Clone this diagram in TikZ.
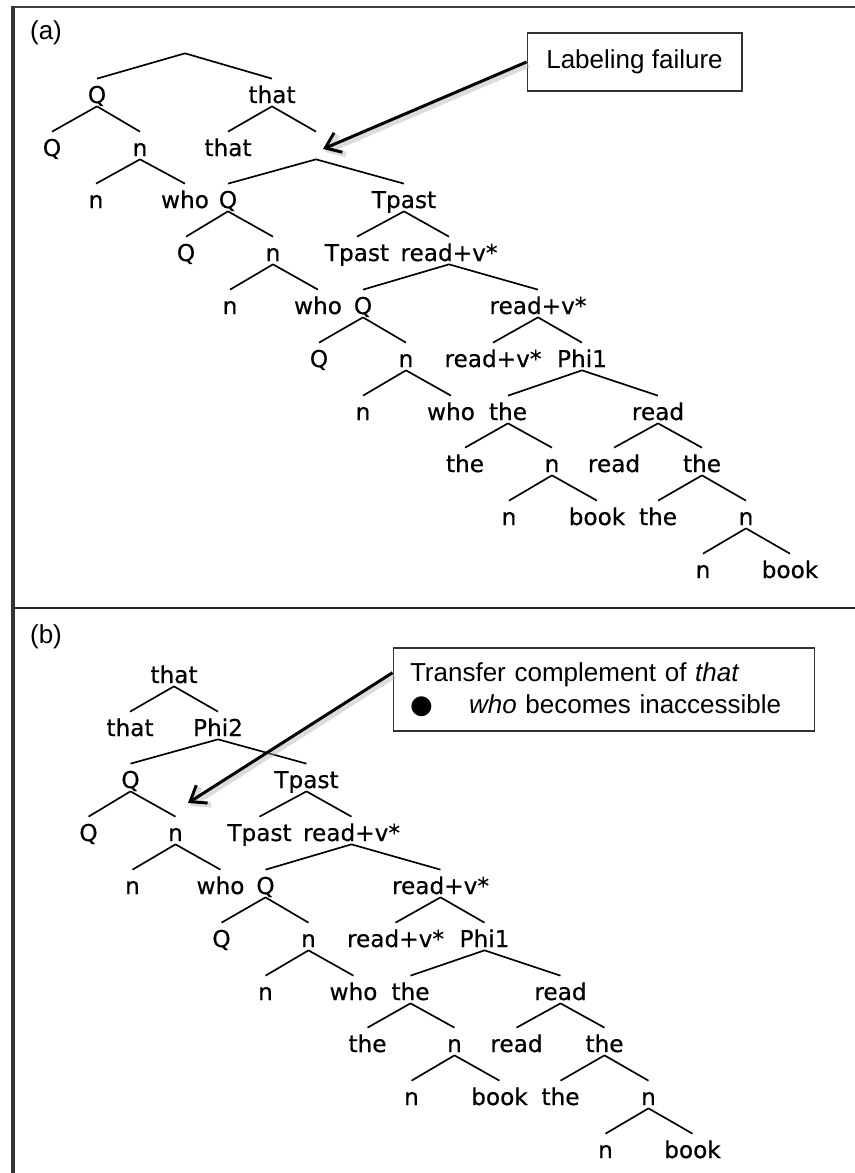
\documentclass[tikz,border=0pt]{standalone}
\usepackage{fontspec}
\setmainfont{Liberation Sans}
\newfontfamily\treefont[FakeBold=0.5]{DejaVu Sans}
\newfontfamily\symbfont{DejaVu Sans}
\usetikzlibrary{arrows.meta,calc}

% the clause below the complementizer, drawn in both panels
\newcommand{\lowertree}[1]{%
  \node[lbl] (#1Q3) at (228,208) {Q};
  \node[lbl] (#1Tp3) at (404,208) {Tpast};
  \node[lbl] (#1Q4) at (186,261) {Q};
  \node[lbl] (#1n4) at (273,261) {n};
  \node[lbl] (#1Tp4) at (357,261) {Tpast};
  \node[lbl] (#1rv4) at (449,261) {read+v*};
  \node[lbl] (#1n5) at (230,314) {n};
  \node[lbl] (#1who5) at (318,314) {who};
  \node[lbl] (#1Q5) at (363,314) {Q};
  \node[lbl] (#1rv5) at (538,314) {read+v*};
  \node[lbl] (#1Q6) at (319,367) {Q};
  \node[lbl] (#1n6) at (406,367) {n};
  \node[lbl] (#1rv6) at (493,367) {read+v*};
  \node[lbl] (#1phi6) at (582,367) {Phi1};
  \node[lbl] (#1n7) at (363,420) {n};
  \node[lbl] (#1who7) at (451,420) {who};
  \node[lbl] (#1the7) at (508,420) {the};
  \node[lbl] (#1read7) at (658,420) {read};
  \node[lbl] (#1the8) at (465,472) {the};
  \node[lbl] (#1n8) at (552,472) {n};
  \node[lbl] (#1read8) at (614,472) {read};
  \node[lbl] (#1the8b) at (702,472) {the};
  \node[lbl] (#1n9) at (509,525) {n};
  \node[lbl] (#1book9) at (597,525) {book};
  \node[lbl] (#1the9) at (658,525) {the};
  \node[lbl] (#1n9b) at (746,525) {n};
  \node[lbl] (#1n10) at (703,578) {n};
  \node[lbl] (#1book10) at (790,578) {book};
  \draw[branch] (#1Q3.south) -- (#1Q4.north) (#1Q3.south) -- (#1n4.north);
  \draw[branch] (#1n4.south) -- (#1n5.north) (#1n4.south) -- (#1who5.north);
  \draw[branch] (#1Tp3.south) -- (#1Tp4.north) (#1Tp3.south) -- (#1rv4.north);
  \draw[branch] (#1rv4.south) -- (#1Q5.north) (#1rv4.south) -- (#1rv5.north);
  \draw[branch] (#1Q5.south) -- (#1Q6.north) (#1Q5.south) -- (#1n6.north);
  \draw[branch] (#1n6.south) -- (#1n7.north) (#1n6.south) -- (#1who7.north);
  \draw[branch] (#1rv5.south) -- (#1rv6.north) (#1rv5.south) -- (#1phi6.north);
  \draw[branch] (#1phi6.south) -- (#1the7.north) (#1phi6.south) -- (#1read7.north);
  \draw[branch] (#1the7.south) -- (#1the8.north) (#1the7.south) -- (#1n8.north);
  \draw[branch] (#1n8.south) -- (#1n9.north) (#1n8.south) -- (#1book9.north);
  \draw[branch] (#1read7.south) -- (#1read8.north) (#1read7.south) -- (#1the8b.north);
  \draw[branch] (#1the8b.south) -- (#1the9.north) (#1the8b.south) -- (#1n9b.north);
  \draw[branch] (#1n9b.south) -- (#1n10.north) (#1n9b.south) -- (#1book10.north);
}

\begin{document}
\begin{tikzpicture}[x=0.02cm,y=-0.02cm,
  lbl/.style={inner sep=0pt, anchor=base, text height=0.48cm, text depth=0.06cm,
    font=\treefont\fontsize{13.2}{15}\selectfont},
  branch/.style={line width=0.95pt},
  callout/.style={draw=black!80, line width=0.6pt, font=\fontsize{14.8}{18.1}\selectfont},
  pointer/.style={line width=1.7pt, -{Straight Barb[length=8pt,width=12pt]}},
  shade/.style={line width=3pt, black!30, opacity=0.45, -{Straight Barb[length=8pt,width=12pt]}}]
\useasboundingbox (0,0) rectangle (855,1173);

% frame
\draw[black!75, line width=1.3pt] (11,7) -- (855,7);
\draw[black!80, line width=1.8pt] (13,6) -- (13,1173);
\draw[black!85, line width=1.2pt] (13,608) -- (855,608);

% (a)
\node[font=\fontsize{14.8}{18}\selectfont] (panela) at (46,33) {(a)};
\node[lbl] (aroot) at (185,50) {};
\node[lbl] (aQ1) at (97,103) {Q};
\node[lbl] (athat1) at (272,103) {that};
\node[lbl] (aQ2) at (52,156) {Q};
\node[lbl] (an2) at (140,156) {n};
\node[lbl] (athat2) at (228,156) {that};
\node[lbl] (acomp) at (316,156) {};
\node[lbl] (an3) at (96,208) {n};
\node[lbl] (awho3) at (185,208) {who};
\lowertree{a}
\draw[branch] (aroot.south) -- (aQ1.north) (aroot.south) -- (athat1.north);
\draw[branch] (aQ1.south) -- (aQ2.north) (aQ1.south) -- (an2.north);
\draw[branch] (an2.south) -- (an3.north) (an2.south) -- (awho3.north);
\draw[branch] (athat1.south) -- (athat2.north) (athat1.south) -- (acomp.north);
\draw[branch] (acomp.south) -- (aQ3.north) (acomp.south) -- (aTp3.north);

\node[callout, minimum width=4.3cm, minimum height=1.16cm] (fail) at (634.5,62) {Labeling failure\hspace{0.12cm}};
\coordinate (failtip) at (323,149);
\draw[shade] ([shift={(2,3)}]fail.west) -- ([shift={(2,3)}]failtip);
\draw[pointer] (fail.west) -- (failtip);

% (b)
\node[font=\fontsize{14.8}{18}\selectfont] (panelb) at (46,637) {(b)};
\node[lbl] (bthat1) at (174,683) {that};
\node[lbl] (bthat2) at (130,736) {that};
\node[lbl] (bphi2) at (218,736) {Phi2};
\begin{scope}[shift={(-97.5,580)}]
\lowertree{b}
\end{scope}
\draw[branch] (bthat1.south) -- (bthat2.north) (bthat1.south) -- (bphi2.north);
\draw[branch] (bphi2.south) -- (bQ3.north) (bphi2.south) -- (bTp3.north);

\node[callout, text width=7.76cm, inner xsep=0.34cm, align=left, minimum height=1.66cm] (transfer) at (604,689.5)
  {Transfer complement of \textit{that}\\\makebox[1.18cm][l]{\symbfont ●}\textit{who} becomes inaccessible};
\coordinate (transfertip) at (188,803);
\draw[shade] ($(transfer.north west)!0.3!(transfer.south west)+(2,3)$) -- ([shift={(2,3)}]transfertip);
\draw[pointer] ($(transfer.north west)!0.3!(transfer.south west)$) -- (transfertip);
\end{tikzpicture}
\end{document}
